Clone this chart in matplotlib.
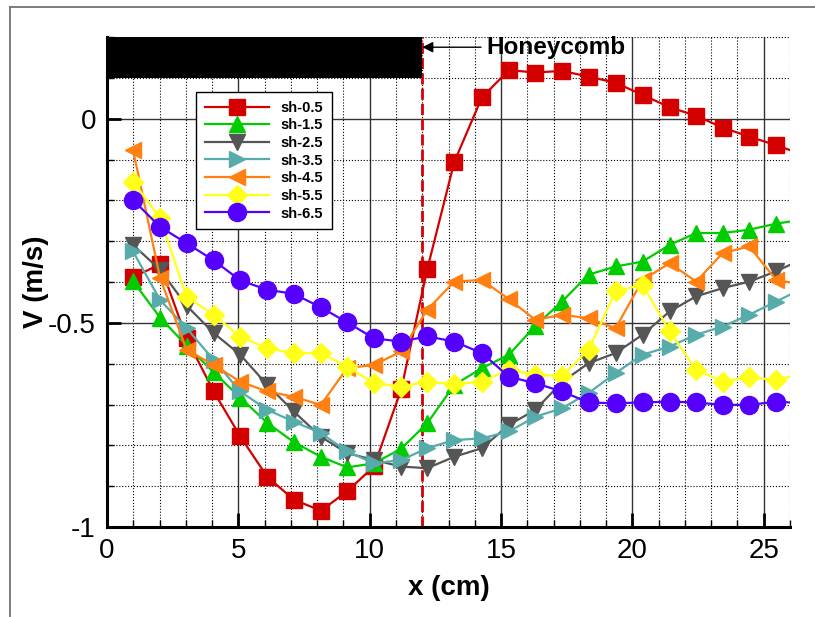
import matplotlib
matplotlib.use("Agg")
import matplotlib.pyplot as plt
from matplotlib.lines import Line2D
from matplotlib.ticker import MultipleLocator, FormatStrFormatter

plt.rcParams['font.family'] = ['Liberation Sans', 'DejaVu Sans']
plt.rcParams['axes.unicode_minus'] = False

# measurement stations along x (cm); last entry is where the curves leave the plot
x_pos = [0.99, 2.02, 3.03, 4.06, 5.07, 6.10, 7.11, 8.14, 9.14, 10.17, 11.20, 12.19, 13.22,
         14.27, 15.30, 16.31, 17.32, 18.33, 19.36, 20.39, 21.42, 22.43, 23.44, 24.45, 25.47, 26.0]

labels = ['sh-0.5', 'sh-1.5', 'sh-2.5', 'sh-3.5', 'sh-4.5', 'sh-5.5', 'sh-6.5']

sh05 = [-0.388, -0.357, -0.538, -0.668, -0.778, -0.877, -0.933, -0.960, -0.913, -0.851, -0.663,
        -0.369, -0.106, 0.052, 0.119, 0.113, 0.117, 0.103, 0.088, 0.058, 0.028, 0.007, -0.022,
        -0.044, -0.065, -0.077]
sh15 = [-0.398, -0.487, -0.556, -0.621, -0.683, -0.745, -0.792, -0.828, -0.854, -0.844, -0.808,
        -0.746, -0.652, -0.611, -0.578, -0.507, -0.448, -0.382, -0.362, -0.350, -0.309, -0.280,
        -0.280, -0.272, -0.257, -0.252]
sh25 = [-0.309, -0.370, -0.458, -0.525, -0.578, -0.652, -0.717, -0.779, -0.819, -0.836, -0.852,
        -0.856, -0.828, -0.807, -0.750, -0.713, -0.645, -0.599, -0.574, -0.529, -0.472, -0.435,
        -0.415, -0.399, -0.374, -0.358]
sh35 = [-0.325, -0.444, -0.513, -0.591, -0.668, -0.713, -0.742, -0.770, -0.815, -0.844, -0.836,
        -0.807, -0.787, -0.783, -0.766, -0.730, -0.709, -0.672, -0.623, -0.578, -0.558, -0.529,
        -0.509, -0.480, -0.448, -0.431]
sh45 = [-0.076, -0.390, -0.566, -0.603, -0.644, -0.668, -0.681, -0.701, -0.611, -0.603, -0.570,
        -0.468, -0.399, -0.395, -0.442, -0.493, -0.480, -0.489, -0.513, -0.395, -0.354, -0.399,
        -0.329, -0.313, -0.395, -0.401]
sh55 = [-0.154, -0.243, -0.436, -0.480, -0.534, -0.562, -0.574, -0.574, -0.607, -0.648, -0.656,
        -0.644, -0.650, -0.644, -0.615, -0.627, -0.630, -0.566, -0.423, -0.407, -0.521, -0.615,
        -0.644, -0.633, -0.640, -0.632]
sh65 = [-0.199, -0.265, -0.305, -0.347, -0.396, -0.419, -0.429, -0.462, -0.499, -0.538, -0.546,
        -0.533, -0.546, -0.574, -0.632, -0.648, -0.668, -0.695, -0.697, -0.695, -0.693, -0.695,
        -0.701, -0.701, -0.693, -0.695]

series = [sh05, sh15, sh25, sh35, sh45, sh55, sh65]
colors = ['#d40000', '#00cc00', '#555555', '#58abab', '#ff8010', '#ffff1a', '#5500ff']
markers = ['s', '^', 'v', '>', '<', 'D', 'o']
msizes = [11, 12, 12, 12, 12, 10, 13]

# honeycomb position and the black block drawn above it
honeycomb_x = 12.0
block_y = (0.1, 0.2)

fig = plt.figure(figsize=(8.15, 6.17), dpi=100)
ax = fig.add_axes([107/815, 90/617, 683/815, 490/617])

for vals, c, m, ms, lab in zip(series, colors, markers, msizes, labels):
    ax.plot(x_pos, vals, color=c, lw=1.6, marker=m, ms=ms, markevery=slice(0, 25),
            label=lab, zorder=3)

ax.axvline(honeycomb_x, color='#d40000', lw=2, ls=(0, (4, 1.5)), zorder=2.5)
ax.fill_between([0, honeycomb_x], block_y[0], block_y[1], color='black', lw=0, zorder=4)
ax.annotate('Honeycomb', xy=(honeycomb_x, 0.175), xytext=(14.45, 0.175),
            fontsize=17.5, fontweight='bold', va='center', ha='left',
            arrowprops=dict(arrowstyle='-|>', color='black', lw=1, mutation_scale=16,
                            shrinkA=2, shrinkB=0))

ax.set_xlim(0, 26)
ax.set_ylim(-1, 0.2)
ax.xaxis.set_major_locator(MultipleLocator(5))
ax.xaxis.set_minor_locator(MultipleLocator(1))
ax.yaxis.set_major_locator(MultipleLocator(0.5))
ax.yaxis.set_minor_locator(MultipleLocator(0.1))
ax.xaxis.set_major_formatter(FormatStrFormatter('%g'))
ax.yaxis.set_major_formatter(FormatStrFormatter('%g'))

ax.grid(which='major', color='0.2', lw=1, ls='-', zorder=1)
ax.grid(which='minor', color='black', lw=0.8, ls=':', zorder=1)
ax.set_axisbelow(True)

for s in ['top', 'right']:
    ax.spines[s].set_visible(False)
for s in ['left', 'bottom']:
    ax.spines[s].set_linewidth(2.2)
    ax.spines[s].set_zorder(5)

ax.tick_params(which='major', direction='in', length=10, width=2, labelsize=20, pad=8)
ax.tick_params(which='minor', direction='in', length=5, width=1)

ax.set_xlabel('x (cm)', fontsize=20, fontweight='bold', labelpad=8)
ax.set_ylabel('V (m/s)', fontsize=20, fontweight='bold', labelpad=-1)

leg = ax.legend(loc='upper left', bbox_to_anchor=(0.130, 0.888), borderaxespad=0,
                prop={'weight': 'bold', 'size': 10.5}, handlelength=4.4, handletextpad=0.8,
                labelspacing=0.25, borderpad=0.6, numpoints=1, fancybox=False,
                framealpha=1, edgecolor='black')
leg.get_frame().set_linewidth(1)
leg.set_zorder(6)

# outer frame of the picture (top and left edges)
fig.add_artist(Line2D([10/815, 1], [1 - 7/617, 1 - 7/617], color='0.45', lw=1.3))
fig.add_artist(Line2D([10/815, 10/815], [0, 1 - 7/617], color='0.45', lw=1.3))

fig.savefig('out.png', dpi=100)
